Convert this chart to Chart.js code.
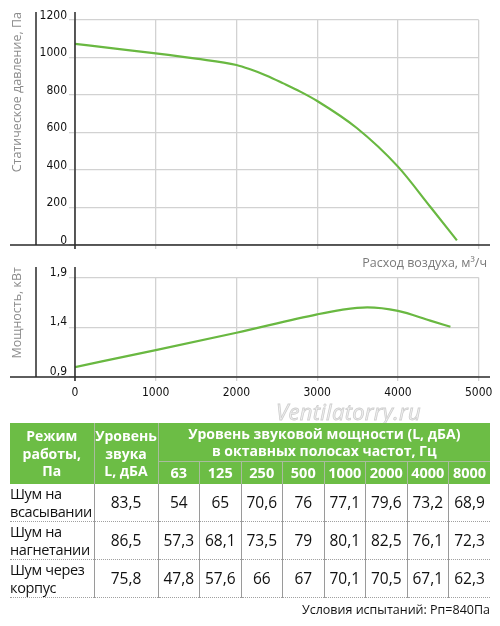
<!DOCTYPE html>
<html>
<head>
<meta charset="utf-8">
<script src="https://cdn.jsdelivr.net/npm/chart.js@4.4.1/dist/chart.umd.min.js"></script>
<style>
  html, body { margin: 0; padding: 0; background: #fff; }
  body { width: 500px; height: 626px; position: relative; overflow: hidden; font-family: 'Open Sans', sans-serif; }
  canvas { position: absolute; left: 0; }
  #pressureChart { top: 0; }
  #powerChart { top: 260px; }
  #mark { position: absolute; left: 276px; top: 396px; font: italic 22px 'Open Sans', sans-serif; color: #f0f0f0;
          -webkit-text-stroke: 0.8px #cfcfcf; letter-spacing: 0.3px; }
  table { position: absolute; left: 10px; top: 423px; width: 480px; border-collapse: collapse; table-layout: fixed; }
  th { background: #6cbd45; color: #fff; font-weight: 700; font-size: 14px; line-height: 17.5px; padding: 0;
       border-left: 1.5px solid #a9bc9e; }
  th.first { border-left: none; }
  tr.h1 th { height: 38px; }
  tr.h2 th { height: 22px; border-top: 1.5px solid #a9bc9e; font-size: 14.5px; }
  td { font-size: 15.5px; line-height: 17.5px; height: 37px; padding: 0; text-align: center; color: #111;
       border-left: 1.5px solid #9a9a9a; border-bottom: 1.5px dotted #a0a0a0; }
  td.mode { text-align: left; border-left: none; font-size: 14.5px; letter-spacing: -0.35px; white-space: nowrap; }
  #note { position: absolute; right: 10px; top: 601px; font-size: 12.5px; color: #111; }
</style>
</head>
<body>
<canvas id="pressureChart" width="500" height="270"></canvas>
<canvas id="powerChart" width="500" height="140"></canvas>
<div id="mark">Ventilatorry.ru</div>
<table id="noise"></table>
<div id="note">Условия испытаний: Рп=840Па</div>
<script>
// кривая давления
const flowP = [0, 500, 1000, 1500, 2000, 2170, 2375, 2580, 2790, 3000, 3490, 4000, 4400, 4730];
const pressure = [1073, 1047, 1022, 994, 960, 937, 903, 862, 818, 768, 624, 418, 204, 25];

// кривая мощности
const flowN = [0, 1000, 2000, 3000, 3300, 3620, 4000, 4400, 4650];
const power = [1.0, 1.17, 1.345, 1.53, 1.575, 1.6, 1.565, 1.467, 1.405];

const flowTicks = [0, 1000, 2000, 3000, 4000, 5000];
const pressureTicks = [0, 200, 400, 600, 800, 1000, 1200];
const powerTicks = [0.9, 1.4, 1.9];

// таблица шума
const bands = ['63', '125', '250', '500', '1000', '2000', '4000', '8000'];
const modes = [['Шум на', 'всасывании'], ['Шум на', 'нагнетании'], ['Шум через', 'корпус']];
const totalLevel = [83.5, 86.5, 75.8];
const bandLevels = [
    [54, 65, 70.6, 76, 77.1, 79.6, 73.2, 68.9],
    [57.3, 68.1, 73.5, 79, 80.1, 82.5, 76.1, 72.3],
    [47.8, 57.6, 66, 67, 70.1, 70.5, 67.1, 62.3]
];

const green = '#69b841';
const gridColor = '#d2d2d2';
const tickFont = { family: "'Liberation Sans Narrow', 'DejaVu Sans Condensed', sans-serif", size: 12 };

// чёрные оси и подписи осей поверх графика
const frame = {
    id: 'frame',
    afterDraw(chart, args, opts) {
        const { ctx, chartArea: a } = chart;
        ctx.save();
        ctx.strokeStyle = '#2a2a2a';
        ctx.lineWidth = 1.5;
        ctx.beginPath();
        ctx.moveTo(10, a.bottom); ctx.lineTo(490, a.bottom);
        ctx.moveTo(a.left, opts.top); ctx.lineTo(a.left, a.bottom + 4);
        ctx.moveTo(36, opts.top); ctx.lineTo(36, a.bottom);
        ctx.stroke();

        ctx.fillStyle = '#8c8c8c';
        ctx.font = "12.5px 'Open Sans', sans-serif";
        ctx.translate(17, opts.top);
        ctx.rotate(-Math.PI / 2);
        ctx.textAlign = 'right';
        ctx.textBaseline = 'middle';
        ctx.fillText(opts.title, 0, 0);
        ctx.restore();

        if (opts.xTitle) {
            ctx.save();
            ctx.fillStyle = '#7a7a7a';
            ctx.font = "12.5px 'Open Sans', sans-serif";
            ctx.textAlign = 'right';
            ctx.textBaseline = 'middle';
            ctx.fillText(opts.xTitle, 487, 263);
            ctx.restore();
        }
    }
};

function toPoints(xs, ys) {
    return xs.map((x, i) => ({ x: x, y: ys[i] }));
}

function comma(v, digits) {
    return Number(v).toFixed(digits).replace('.', ',');
}

function makeChart(id, data, yOpts, xOpts, frameOpts, padding) {
    return new Chart(document.getElementById(id).getContext('2d'), {
        type: 'line',
        data: {
            datasets: [{
                data: data,
                borderColor: green,
                borderWidth: 2.2,
                pointRadius: 0,
                cubicInterpolationMode: 'monotone',
                fill: false
            }]
        },
        options: {
            responsive: false,
            animation: false,
            layout: { padding: padding },
            plugins: { legend: { display: false }, tooltip: { enabled: false }, frame: frameOpts },
            scales: {
                x: Object.assign({
                    type: 'linear',
                    min: 0,
                    max: 5000,
                    border: { display: false },
                    grid: { color: gridColor, lineWidth: 1.3, tickLength: 4, tickColor: gridColor },
                    afterBuildTicks: s => { s.ticks = flowTicks.map(v => ({ value: v })); }
                }, xOpts),
                y: Object.assign({
                    border: { display: false },
                    grid: { color: gridColor, lineWidth: 1.3, tickLength: 6, tickColor: gridColor },
                    afterFit: s => { s.width = 75; }
                }, yOpts)
            }
        },
        plugins: [frame]
    });
}

makeChart('pressureChart', toPoints(flowP, pressure),
    {
        min: 0, max: 1200,
        afterBuildTicks: s => { s.ticks = pressureTicks.map(v => ({ value: v })); },
        ticks: { font: tickFont, color: '#111', padding: 2, labelOffset: -4.5, callback: v => String(v) }
    },
    {
        ticks: { display: false },
        afterFit: s => { s.height = 25; }
    },
    { top: 12, title: 'Статическое давление, Па', xTitle: 'Расход воздуха, м³/ч' },
    { left: 0, right: 21.3, top: 20, bottom: 0 });

makeChart('powerChart', toPoints(flowN, power),
    {
        min: 0.9, max: 1.9,
        afterBuildTicks: s => { s.ticks = powerTicks.map(v => ({ value: v })); },
        ticks: { font: tickFont, color: '#111', padding: 2, labelOffset: -5, callback: v => comma(v, 1) }
    },
    {
        ticks: { font: tickFont, color: '#111', padding: 5, maxRotation: 0, callback: v => String(v) },
        afterFit: s => { s.height = 23; }
    },
    { top: 7, title: 'Мощность, кВт' },
    { left: 0, right: 21.3, top: 17.5, bottom: 0 });

// таблица
const table = document.getElementById('noise');
let html = '<colgroup><col style="width:84px"><col style="width:64px">' +
    bands.map(() => '<col style="width:41.5px">').join('') + '</colgroup>';
html += '<tr class="h1"><th class="first" rowspan="2">Режим<br>работы,<br>Па</th>' +
    '<th rowspan="2">Уровень<br>звука<br>L, дБА</th>' +
    '<th colspan="' + bands.length + '">Уровень звуковой мощности (L, дБА)<br>в октавных полосах частот, Гц</th></tr>';
html += '<tr class="h2">' + bands.map(b => '<th>' + b + '</th>').join('') + '</tr>';
modes.forEach((m, r) => {
    html += '<tr><td class="mode">' + m.join('<br>') + '</td><td>' + comma(totalLevel[r], 1) + '</td>' +
        bandLevels[r].map(v => '<td>' + (Number.isInteger(v) ? v : comma(v, 1)) + '</td>').join('') + '</tr>';
});
table.innerHTML = html;
</script>
</body>
</html>
